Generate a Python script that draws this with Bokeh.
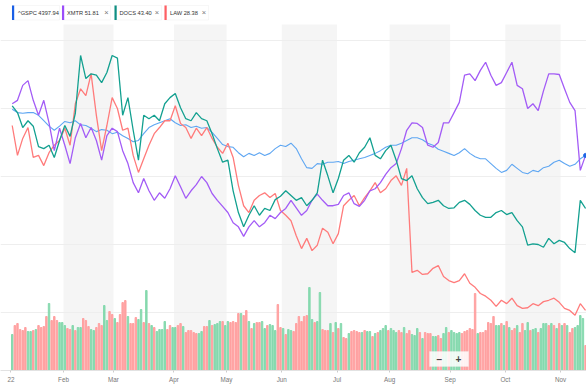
from bokeh.plotting import figure
from bokeh.models import Range1d, FixedTicker, BoxAnnotation, ColumnDataSource, Label
from bokeh.embed import file_html
from bokeh.resources import INLINE

# ---------------- data ----------------
month_ticks = [0, 20, 39, 62, 82, 103, 124, 144, 167, 188, 209]
month_labels = ["22", "Feb", "Mar", "Apr", "May", "Jun", "Jul", "Aug", "Sep", "Oct", "Nov"]
shaded_months = [(20, 39), (62, 82), (103, 124), (144, 167), (188, 209)]

days = list(range(0, 219, 2))  # trading-day index of each line point

# percent change since start
gspc = [-0.1, -0.6, -0.7, -0.6, -0.6, -1.0, -1.8, -2.6, -3.2, -2.6,
        -1.9, -2.1, -1.8, -2.4, -2.5, -2.9, -3.4, -3.1, -3.2, -3.7,
        -3.5, -4.0, -4.4, -4.9, -4.7, -3.7, -2.8, -2.4, -2.1, -1.8,
        -1.5, -2.1, -2.5, -2.4, -2.8, -2.6, -2.9, -2.8, -3.5, -4.4,
        -5.3, -5.6, -5.7, -6.5, -7.1, -6.6, -6.9, -6.5, -6.9, -6.6,
        -5.9, -5.4, -5.6, -5.1, -5.9, -7.4, -8.7, -8.8, -8.1, -8.2,
        -7.9, -7.9, -7.8, -8.1, -7.8, -7.6, -7.4, -7.2, -6.9, -6.6,
        -6.2, -5.7, -5.4, -5.4, -5.1, -4.7, -4.3, -4.3, -4.6, -5.1,
        -5.4, -6.0, -6.3, -6.6, -6.9, -6.5, -5.9, -6.6, -7.1, -7.4,
        -7.4, -8.1, -8.8, -9.4, -9.1, -8.2, -8.8, -9.4, -9.6, -9.1,
        -9.3, -8.7, -8.5, -7.9, -7.6, -8.1, -8.5, -8.2, -7.4, -6.9]

xmtr = [0.7, 1.2, 3.4, 4.1, 1.2, -1.0, 1.2, -2.1, -6.2, -2.9,
        -5.4, -8.1, -4.3, -2.2, -4.3, -2.8, -4.7, -7.6, -4.0, -2.9,
        -3.4, -6.2, -8.1, -10.9, -12.4, -10.3, -12.1, -13.5, -12.4, -13.2,
        -11.8, -9.9, -11.5, -13.2, -12.1, -11.2, -10.0, -10.9, -12.5, -13.5,
        -14.4, -15.3, -16.8, -17.4, -18.8, -17.4, -16.5, -17.4, -16.8, -15.7,
        -16.2, -15.3, -14.7, -13.5, -14.6, -15.7, -15.0, -13.5, -12.6, -13.5,
        -14.3, -14.3, -14.1, -12.8, -12.4, -14.0, -14.4, -13.5, -12.1, -11.8,
        -10.9, -9.7, -8.7, -8.1, -5.9, -3.2, -2.1, -2.2, -2.8, -5.4,
        -5.7, -5.0, -2.1, -2.1, -0.6, 0.9, 4.9, 5.1, 4.1, 5.6,
        6.8, 4.9, 3.4, 3.8, 5.3, 6.8, 3.4, 2.9, 0.0, 0.7,
        -0.3, 2.6, 5.1, 5.1, 5.0, 2.9, 0.9, -0.3, -9.1, -6.9]

docs = [0.4, -0.6, -2.8, -1.8, -2.6, -5.6, -5.9, -5.4, -7.2, -4.7,
        -2.5, -4.1, -0.7, 7.8, 4.4, 5.1, 4.9, 3.8, 5.3, 7.8,
        7.4, -1.0, 1.6, -3.2, -7.6, -1.0, -1.5, -1.0, -1.8, 0.7,
        1.6, 2.2, 0.1, -1.5, -1.8, -0.6, -1.5, -1.8, -3.7, -5.9,
        -7.9, -7.6, -12.1, -15.3, -17.4, -15.7, -14.3, -15.7, -14.7, -15.0,
        -13.4, -12.9, -12.1, -12.8, -13.5, -13.1, -14.3, -13.5, -12.4, -7.6,
        -9.9, -12.4, -10.3, -7.6, -6.9, -7.9, -6.5, -5.7, -4.3, -6.9,
        -7.4, -6.2, -5.4, -7.6, -10.3, -10.6, -9.9, -11.8, -13.1, -14.0,
        -13.8, -13.5, -14.3, -14.7, -14.6, -13.8, -13.5, -14.1, -15.0, -15.7,
        -16.0, -16.0, -15.3, -15.0, -15.6, -15.3, -16.5, -17.4, -20.1, -19.9,
        -20.0, -20.4, -19.1, -19.9, -19.4, -19.7, -20.6, -21.2, -13.5, -14.7]

law = [-2.5, -6.9, -4.4, -2.8, -7.2, -6.9, -8.4, -6.5, -5.4, -4.7,
       -2.9, -5.4, 0.7, 2.9, 1.9, 5.1, -1.0, -6.2, -2.5, 1.6,
       0.0, -3.2, -2.9, -6.9, -9.4, -7.4, -5.4, -3.7, -2.8, -1.8,
       -1.8, 0.4, -2.2, -2.8, -4.4, -2.9, -4.0, -2.8, -4.4, -5.7,
       -6.6, -5.1, -7.2, -11.3, -14.3, -15.3, -13.5, -12.8, -12.4, -13.1,
       -12.5, -15.0, -15.7, -16.5, -18.7, -20.6, -19.1, -20.9, -20.1, -17.6,
       -18.2, -19.9, -18.4, -14.3, -13.5, -12.8, -14.3, -13.1, -12.1, -10.9,
       -12.4, -11.8, -10.6, -9.9, -11.3, -8.8, -24.1, -23.8, -24.4, -24.3,
       -23.5, -23.1, -24.7, -25.3, -25.6, -25.3, -24.3, -25.7, -26.3, -27.2,
       -27.6, -28.2, -29.1, -28.2, -28.7, -27.9, -29.0, -29.4, -29.3, -28.7,
       -29.0, -28.4, -28.2, -27.9, -28.5, -29.4, -29.7, -30.4, -28.7, -29.7]

# daily volume (billions of shares) and day direction (G = up, R = down)
volume = [3.6, 4.5, 4.7, 4.1, 4.0, 4.3, 3.9, 3.9, 4.0, 4.1,
          4.5, 4.3, 4.4, 5.4, 6.7, 5.0, 5.4, 5.0, 4.8, 4.8,
          4.5, 4.2, 4.1, 4.5, 4.0, 4.3, 4.3, 5.2, 5.0, 4.4,
          4.1, 4.0, 4.3, 4.7, 4.5, 6.5, 5.0, 5.9, 5.6, 5.2,
          4.8, 5.6, 6.8, 7.0, 5.4, 4.7, 4.7, 5.3, 5.1, 6.1,
          4.8, 8.0, 4.7, 4.5, 4.3, 3.9, 4.1, 4.1, 4.9, 4.1,
          4.5, 4.3, 4.3, 4.5, 4.7, 4.4, 3.8, 4.0, 4.0, 3.8,
          3.7, 3.7, 3.9, 4.4, 4.4, 5.0, 4.5, 4.6, 4.7, 4.9,
          4.9, 4.5, 4.9, 4.8, 4.9, 4.8, 5.7, 5.7, 5.5, 6.0,
          4.9, 4.2, 4.7, 4.8, 4.8, 4.9, 4.2, 4.5, 4.6, 4.5,
          4.0, 6.6, 4.3, 4.2, 3.6, 4.1, 4.0, 3.9,
          4.7, 5.4, 4.9, 5.4, 5.5, 8.3, 5.1, 4.8, 4.9, 7.8,
          4.1, 4.0, 4.0, 4.7, 3.8, 4.8, 4.2, 4.7, 3.3, 3.2,
          3.7, 3.9, 4.0, 3.9, 3.8, 3.8, 4.0, 3.9, 3.9, 3.4,
          3.7, 3.8, 4.0, 4.2, 4.5, 4.0, 4.2, 4.0, 3.8, 4.0,
          3.8, 4.3, 3.7, 4.0, 3.6, 3.5, 4.2, 3.8, 3.2, 3.8,
          3.7, 3.7, 3.4, 3.4, 3.5, 3.2, 3.7, 4.3, 3.8, 4.0,
          3.8, 3.7, 3.8, 3.7, 3.9, 4.0, 4.2, 4.1, 7.7, 3.7,
          3.8, 3.8, 4.0, 4.8, 4.7, 5.4, 4.5, 4.5, 4.7, 4.5,
          4.9, 4.3, 4.0, 4.2, 4.5, 3.8, 4.7, 4.0, 4.8, 4.0,
          4.1, 4.2, 3.8, 4.2, 4.7, 4.7, 4.5, 4.7, 4.5, 4.2,
          4.7, 4.5, 4.7, 4.5, 3.8, 4.2, 4.3, 4.5, 5.5, 5.2,
          2.5]
vol_dir = list("GRRRRRGGRG" "RRRRGRRRGG" "GRRGRGGRRR" "GGRRRGGRRG" "RRRRGRRRGG"
               "RGRGRGGGGR" "RGGRRGRRRR" "RGGRRGRGGG" "RGGRRRRGRR" "GRGRRGGRGG"
               "GRRGRGGR"
               "RRRRRGGRGG" "RRRGRGRGRR" "GRRRRGRGGR" "GRGGGRGGGR" "RGRRGGGRGR"
               "RRGGRRGGRG" "GGGRRRRRRG" "RRRRRRGGRG" "RGRRGRRGGR" "GGRGGGRGRG"
               "RGRGRRGGGG" "R")

legend_names = ["^GSPC", "XMTR", "DOCS", "LAW"]
legend_values = ["4397.94", "51.81", "43.40", "28.38"]

# ---------------- styling ----------------
line_colors = {"gspc": "#5ea6f2", "xmtr": "#a35cf6", "docs": "#13a090", "law": "#ff7b7b"}
legend_colors = ["#1a5fe6", "#9b4dfa", "#0e8f82", "#ff5f63"]
UP, DOWN = "#86d9ae", "#ffa1a1"
FONT = "Liberation Sans"

# reference-pixel helpers (for decorations only)
def px_x(x):
    return (x - 10.4) / 2.63

def px_y(y):
    return (108.0 - y) / 6.8

p = figure(width=586, height=386,
           x_range=Range1d(px_x(0), px_x(586)),
           y_range=Range1d(px_y(370), px_y(0)),
           output_backend="svg", toolbar_location=None,
           min_border_left=0, min_border_right=0, min_border_top=0, min_border_bottom=16)
p.extra_y_ranges = {"vol": Range1d(0, 37.0)}
p.outline_line_color = None
p.background_fill_color = "white"
p.border_fill_color = "white"

# axes / grid
p.yaxis.visible = False
p.xgrid.visible = False
p.ygrid.ticker = FixedTicker(ticks=[-30, -20, -10, 0, 10])
p.ygrid.grid_line_color = "#eeeeee"
p.ygrid.grid_line_width = 1

xa = p.xaxis[0]
xa.ticker = FixedTicker(ticks=month_ticks)
xa.major_label_overrides = {t: l for t, l in zip(month_ticks, month_labels)}
xa.major_label_text_font_size = "6.3px"
xa.major_label_text_font = FONT
xa.major_label_text_color = "#777777"
xa.major_label_standoff = 3
xa.major_tick_out = 2
xa.major_tick_in = 0
xa.minor_tick_out = 0
xa.minor_tick_in = 0
xa.major_tick_line_color = "#cccccc"
xa.axis_line_color = "#e2e2e2"

# shaded alternate months
for a, b in shaded_months:
    p.add_layout(BoxAnnotation(left=a, right=b, top=px_y(24), fill_color="#f5f5f5",
                               fill_alpha=1.0, line_color=None, level="image"))

# volume bars
vsrc = ColumnDataSource(dict(
    x=[i + 0.5 for i in range(len(volume))],
    top=volume,
    color=[UP if d == "G" else DOWN for d in vol_dir],
))
p.vbar(x="x", top="top", width=0.55, bottom=0, color="color", source=vsrc,
       y_range_name="vol")

# comparison lines
xs = [d + 0.5 for d in days]
p.line(xs, gspc, line_color=line_colors["gspc"], line_width=1.1)
p.line(xs, law, line_color=line_colors["law"], line_width=1.3)
p.line(xs, xmtr, line_color=line_colors["xmtr"], line_width=1.3)
p.line(xs, docs, line_color=line_colors["docs"], line_width=1.3)
p.scatter([xs[-1]], [gspc[-1]], size=4, color="#1f66e5")

# legend chips
chip_left = [11.5, 61.5, 114, 164]
chip_right = [59, 110, 161, 208]
text_left = [17.5, 66.5, 119, 169.5]
close_x = [None, 106, 156.5, 203.5]
top, bot, mid = 5, 19.5, 12.3
for i in range(4):
    p.add_layout(BoxAnnotation(left=px_x(chip_left[i]), right=px_x(chip_right[i]),
                               top=px_y(top), bottom=px_y(bot), fill_color="white",
                               fill_alpha=1.0, line_color="#e3e3e3", line_width=1))
    p.add_layout(BoxAnnotation(left=px_x(chip_left[i]), right=px_x(chip_left[i] + 2.2),
                               top=px_y(top), bottom=px_y(bot), fill_color=legend_colors[i],
                               fill_alpha=1.0, line_color=None))
    p.add_layout(Label(x=px_x(text_left[i]), y=px_y(mid),
                       text=legend_names[i] + " " + legend_values[i],
                       text_font=FONT, text_font_size="5.7px", text_color="#333333",
                       text_baseline="middle", text_align="left"))
    if close_x[i] is not None:
        p.add_layout(Label(x=px_x(close_x[i]), y=px_y(mid), text="\u00d7",
                           text_font=FONT, text_font_size="7.5px", text_color="#777777",
                           text_baseline="middle", text_align="center"))

# zoom control
p.add_layout(BoxAnnotation(left=px_x(429), right=px_x(468), top=px_y(351), bottom=px_y(366),
                           fill_color="white", fill_alpha=0.85, line_color="#eeeeee"))
p.add_layout(Label(x=px_x(439), y=px_y(358.5), text="\u2212", text_font=FONT,
                   text_font_size="10px", text_font_style="bold", text_color="#444444",
                   text_baseline="middle", text_align="center"))
p.add_layout(Label(x=px_x(458), y=px_y(358.5), text="+", text_font=FONT,
                   text_font_size="10px", text_font_style="bold", text_color="#444444",
                   text_baseline="middle", text_align="center"))

open("out.html", "w").write(file_html(p, INLINE))
